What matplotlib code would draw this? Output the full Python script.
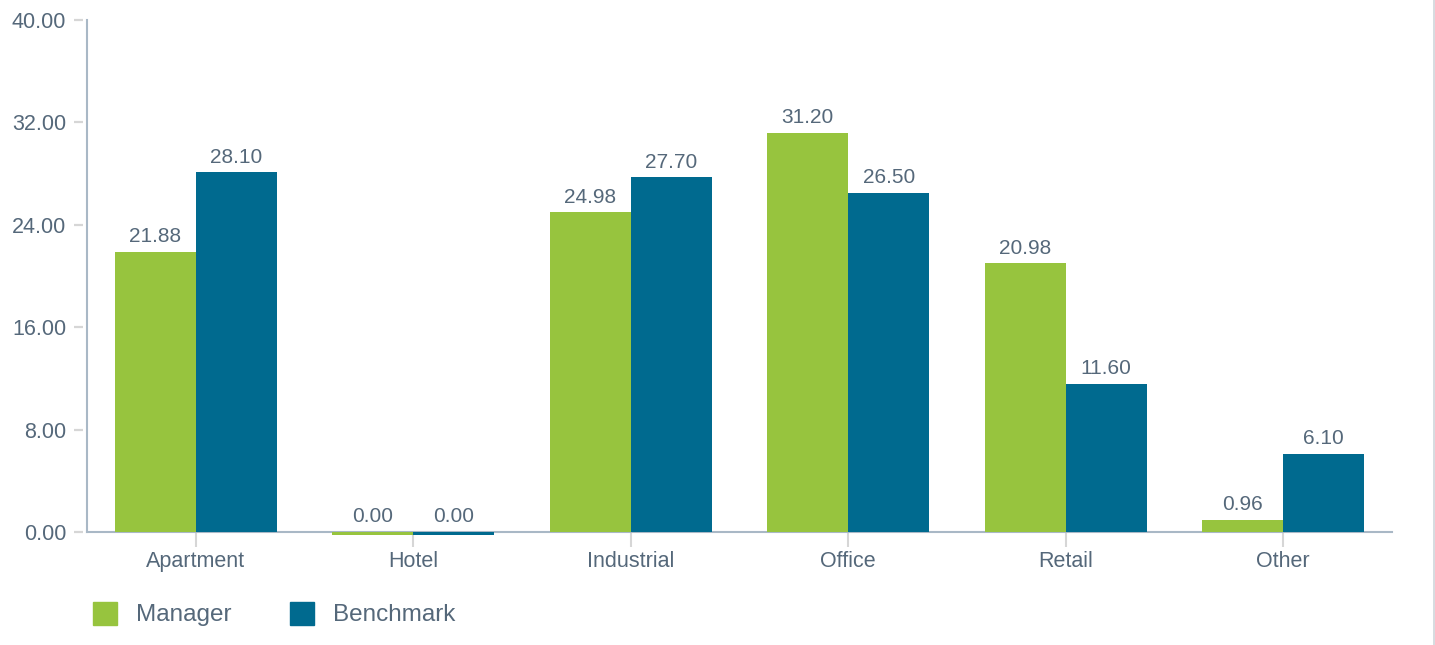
import matplotlib.pyplot as plt
import matplotlib.lines as mlines
import matplotlib.patches as mpatches
import numpy as np

categories = ["Apartment", "Hotel", "Industrial", "Office", "Retail", "Other"]
manager = [21.88, 0.00, 24.98, 31.20, 20.98, 0.96]
benchmark = [28.10, 0.00, 27.70, 26.50, 11.60, 6.10]
yticks = [0, 8, 16, 24, 32, 40]

GREEN = "#97c43e"
BLUE = "#006a8f"
TEXT = "#55687a"
SPINE = "#a9b8c6"
TICK = "#d6d6d6"

plt.rcParams["font.family"] = ["Liberation Sans", "DejaVu Sans"]

fig = plt.figure(figsize=(14.35, 6.45), dpi=100)
ax = fig.add_axes([87 / 1435, 1 - 532 / 645, (1392 - 87) / 1435, 512 / 645])

x = np.arange(len(categories))
w = 0.372


def shown(vals):
    # zero values are still drawn as a thin sliver below the axis
    return [v if v > 0 else -0.22 for v in vals]


ax.bar(x - w / 2, shown(manager), width=w, color=GREEN, zorder=3, clip_on=False)
ax.bar(x + w / 2, shown(benchmark), width=w, color=BLUE, zorder=3, clip_on=False)

for xs, vals in ((x - w / 2, manager), (x + w / 2, benchmark)):
    for xi, v in zip(xs, vals):
        ax.annotate(f"{v:.2f}", (xi, v), xytext=(0, 4), textcoords="offset points",
                    ha="center", va="bottom", fontsize=15, color=TEXT)

ax.set_xlim(-0.5, len(categories) - 0.5)
ax.set_ylim(0, 40)
ax.set_yticks(yticks)
ax.set_yticklabels([f"{t:.2f}" for t in yticks])
ax.set_xticks(x)
ax.set_xticklabels(categories)

# y tick marks sit a little away from the spine
ax.tick_params(axis="y", length=0, labelcolor=TEXT, labelsize=15.5, pad=15)
ytr = ax.get_yaxis_transform()
for t in yticks:
    ax.plot([-0.0100, -0.0030], [t, t], transform=ytr, color=TICK, linewidth=1.6,
            clip_on=False, solid_capstyle="butt")
ax.tick_params(axis="x", colors=TICK, labelcolor=TEXT, labelsize=15.5, length=11, width=1.5, pad=3)

for s in ("top", "right"):
    ax.spines[s].set_visible(False)
for s in ("left", "bottom"):
    ax.spines[s].set_color(SPINE)
    ax.spines[s].set_linewidth(1.5)
    ax.spines[s].set_zorder(2)

# legend drawn by hand to match the spacing
for x0, color, label in ((93, GREEN, "Manager"), (290, BLUE, "Benchmark")):
    fig.add_artist(mpatches.Rectangle((x0 / 1435, 1 - 625 / 645), 24 / 1435, 23 / 645,
                                      transform=fig.transFigure, color=color))
    fig.text((x0 + 43) / 1435, 1 - 615 / 645, label, fontsize=17.5, color=TEXT,
             va="center", ha="left")

fig.add_artist(mlines.Line2D([1434 / 1435, 1434 / 1435], [0, 1], color="#d0d5da",
                             linewidth=1.2, transform=fig.transFigure))

fig.savefig("out.png", dpi=100)
